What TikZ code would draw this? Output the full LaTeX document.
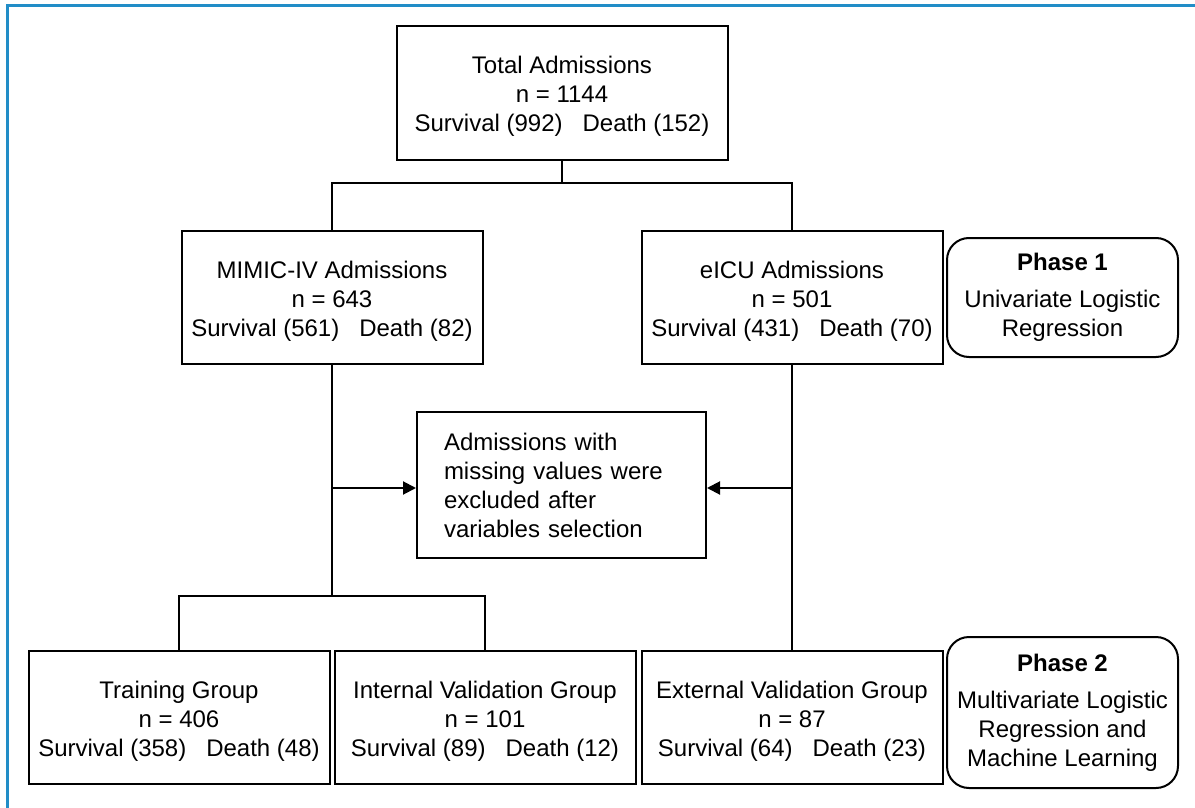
\documentclass[tikz,border=0pt]{standalone}
\usepackage{fontspec}
\setmainfont{Liberation Sans}
\usetikzlibrary{arrows.meta,calc}
\definecolor{frameblue}{RGB}{33,141,199}
\newcommand{\boxtopstrut}{\rule{0pt}{24.5pt}}
\begin{document}
\begin{tikzpicture}[x=1pt,y=-1pt,
  box/.style={draw,line width=2pt,align=center,inner sep=0pt,font=\fontsize{24}{29}\selectfont},
  databox/.style={box,minimum width=301,minimum height=133},
  phasebox/.style={box,rounded corners=22pt,minimum width=231},
  conn/.style={line width=2pt},
  arr/.style={conn,-{Triangle[length=13pt,width=13pt]}}]
\useasboundingbox (0,0) rectangle (1195,808);
\draw[frameblue,line width=3pt] (7.5,808) -- (7.5,6) -- (1195,6);

\node[databox,minimum width=331,minimum height=134] (tot) at (562,93)
  {\boxtopstrut Total Admissions\\ n = 1144\\ Survival (992)\hspace{20pt}Death (152)};
\node[databox] (mimic) at (332,297.5)
  {\boxtopstrut MIMIC-IV Admissions\\ n = 643\\ Survival (561)\hspace{20pt}Death (82)};
\node[databox] (eicu) at (792,297.5)
  {\boxtopstrut eICU Admissions\\ n = 501\\ Survival (431)\hspace{20pt}Death (70)};
\node[phasebox,minimum height=119] (ph1) at (1062.5,297.5)
  {\textbf{Phase 1}\\[8pt] Univariate Logistic\\ Regression};
\node[box,minimum width=289,minimum height=146,align=left,text width=235pt,inner xsep=27pt] (miss) at (561.5,485)
  {Admissions with\\ missing values were\\ excluded after\\ variables selection};
\node[databox] (train) at (179,717.5)
  {\boxtopstrut Training Group\\ n = 406\\ Survival (358)\hspace{20pt}Death (48)};
\node[databox] (int) at (485,717.5)
  {\boxtopstrut Internal Validation Group\\ n = 101\\ Survival (89)\hspace{20pt}Death (12)};
\node[databox] (ext) at (792,717.5)
  {\boxtopstrut External Validation Group\\ n = 87\\ Survival (64)\hspace{20pt}Death (23)};
\node[phasebox,minimum height=151] (ph2) at (1062.5,712.5)
  {\textbf{Phase 2}\\[8pt] Multivariate Logistic\\ Regression and\\ Machine Learning};

\draw[conn] (tot.south) -- ++(0,22) coordinate (j1);
\draw[conn] (mimic.north) |- (j1) -| (eicu.north);
\draw[conn] (mimic.south) -- ++(0,231) coordinate (j2);
\draw[conn] (train.north) |- (j2) -| (int.north);
\coordinate (ml) at ($(miss.west)+(0,3)$);
\coordinate (mr) at ($(miss.east)+(0,3)$);
\draw[arr] (mimic.south |- ml) -- (ml);
\draw[conn] (eicu.south) -- (ext.north);
\draw[arr] (eicu.south |- mr) -- (mr);
\end{tikzpicture}
\end{document}
